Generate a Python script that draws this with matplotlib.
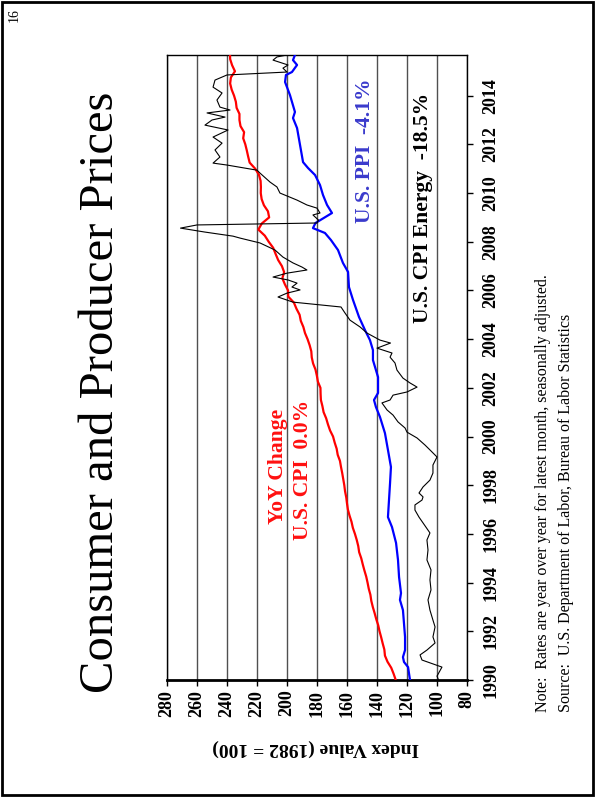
import numpy as np
import matplotlib
matplotlib.use('Agg')
import matplotlib.pyplot as plt
from matplotlib.patches import Rectangle

plt.rcParams['font.family'] = ['Liberation Serif', 'DejaVu Serif']

# ---- data (index values, 1982 = 100) ----
# CPI, quarterly from Jan 1990
cpi_vals = [127.5, 128.9, 130.5, 133.0, 134.7, 135.1, 136.2, 137.2,
            138.3, 139.2, 140.5, 141.6, 142.8, 143.8, 144.4, 145.5,
            146.3, 147.2, 148.4, 149.5, 150.5, 151.9, 152.5, 153.5,
            154.7, 156.1, 157.0, 158.3, 159.4, 160.0, 160.5, 161.3,
            161.8, 162.5, 163.2, 164.0, 164.7, 166.2, 166.9, 168.2,
            169.3, 171.3, 172.7, 173.9, 175.6, 176.4, 177.4, 177.6,
            177.7, 179.4, 180.1, 181.0, 182.6, 183.5, 183.8, 184.9,
            186.3, 188.0, 189.1, 190.8, 191.6, 193.7, 195.4, 199.2,
            199.3, 201.4, 203.1, 201.9, 203.4, 205.9, 207.6, 209.2,
            212.2, 214.8, 219.1, 216.8, 211.9, 212.7, 215.4, 216.9,
            217.5, 217.4, 217.6, 218.7, 221.2, 224.9, 225.9, 226.8,
            227.8, 229.2, 228.6, 231.0, 231.7, 231.7, 233.6, 234.1,
            235.3, 236.9, 237.9, 237.4, 234.7, 236.6, 237.9, 238.0]
cpi_years = 1990 + 0.25 * np.arange(len(cpi_vals))

# PPI
ppi_years = [1990.00, 1990.53, 1990.74, 1990.94, 1991.23, 1991.77, 1992.87, 1993.29,
             1993.57, 1994.23, 1994.93, 1995.63, 1996.28, 1996.69, 1997.39, 1998.09,
             1998.75, 1999.45, 2000.14, 2000.80, 2001.21, 2001.50, 2001.79, 2002.44,
             2003.14, 2003.55, 2003.96, 2004.37, 2004.91, 2005.61, 2006.14, 2006.76,
             2007.13, 2007.66, 2008.07, 2008.36, 2008.56, 2008.77, 2009.18, 2009.51,
             2009.92, 2010.33, 2010.74, 2011.03, 2011.27, 2011.97, 2012.67, 2013.08,
             2013.33, 2014.02, 2014.56, 2014.85, 2014.97, 2015.26, 2015.46, 2015.67]
ppi_vals = [118, 119.3, 122, 122.7, 121.3, 121.3, 122.7, 124.7,
            124, 125.3, 126, 127.3, 130, 132.7, 132, 131.3,
            130.7, 132.7, 134.7, 138, 140.7, 142, 139.3, 139.3,
            142.7, 142.7, 144.7, 148, 152, 156, 158.7, 159.3,
            162.7, 166, 170.7, 174.7, 182.7, 181, 170, 173.3,
            176, 178, 181.3, 186, 189.3, 191.3, 193.3, 196,
            194.7, 198, 201.3, 200.7, 196.7, 193.3, 196, 194.7]

# CPI Energy
energy_years = [1990.00, 1990.16, 1990.53, 1990.82, 1991.03, 1991.23, 1991.52, 1991.77,
                1992.18, 1992.46, 1992.87, 1993.29, 1993.70, 1994.11, 1994.52, 1994.93,
                1995.34, 1995.75, 1996.04, 1996.45, 1996.69, 1996.98, 1997.19, 1997.39,
                1997.52, 1997.68, 1997.93, 1998.21, 1998.50, 1998.83, 1999.16, 1999.45,
                1999.65, 1999.94, 2000.18, 2000.35, 2000.60, 2000.88, 2001.09, 2001.38,
                2001.50, 2001.70, 2001.83, 2002.03, 2002.20, 2002.40, 2002.73, 2003.02,
                2003.26, 2003.43, 2003.63, 2003.84, 2003.96, 2004.25, 2004.50, 2004.78,
                2005.07, 2005.32, 2005.52, 2005.73, 2005.89, 2006.02, 2006.14, 2006.30,
                2006.43, 2006.55, 2006.71, 2006.84, 2006.96, 2007.13, 2007.37, 2007.66,
                2007.95, 2008.15, 2008.23, 2008.40, 2008.56, 2008.69, 2008.77, 2008.89,
                2009.10, 2009.18, 2009.38, 2009.51, 2009.71, 2010.00, 2010.25, 2010.45,
                2010.82, 2010.94, 2011.15, 2011.23, 2011.48, 2011.77, 2012.05, 2012.30,
                2012.59, 2012.79, 2013.00, 2013.12, 2013.29, 2013.41, 2013.53, 2013.82,
                2014.11, 2014.35, 2014.64, 2014.85, 2014.97, 2015.13, 2015.26, 2015.46,
                2015.59, 2015.67]
energy_vals = [99, 100, 96.7, 110, 111.3, 106.7, 101.3, 102.7,
               101.3, 102.7, 104.7, 106, 104, 104.7, 104, 106.7,
               106, 106.7, 104.7, 109.3, 112, 114.7, 114.7, 110,
               109.3, 112, 109.3, 104.7, 102.7, 102.7, 100, 104.7,
               108, 113.3, 120, 121.3, 126, 129.3, 133.3, 136.7,
               131.3, 129.3, 120, 113.3, 118, 122.7, 126.7, 128,
               131.3, 130, 140, 131, 138, 146.7, 151.3, 158,
               161.3, 164, 196, 206, 200, 191.3, 196.7, 193.3,
               199.3, 209.3, 200, 186.7, 190, 196, 202.7, 208,
               218, 231.3, 236, 255, 271, 260, 180, 179,
               182.7, 178, 180, 186.7, 193.3, 204.7, 206.7, 211.3,
               218, 220, 240, 249.3, 244.7, 248, 243.3, 249.3,
               239.3, 254.7, 250, 241.3, 253.3, 238, 244.7, 246.7,
               243.3, 249.3, 248, 240, 200, 202.7, 199.3, 209.3,
               206.7, 200]

value_ticks = list(range(80, 281, 20))
year_ticks = list(range(1990, 2015, 2))

W, H = 597, 797

def fx(px):
    return px / W

def fy(py):
    return 1 - py / H

fig = plt.figure(figsize=(W / 100, H / 100), dpi=100)

# page frame
fig.patches.append(Rectangle((fx(2), fy(795)), fx(591), 793 / H, transform=fig.transFigure,
                             fill=False, edgecolor='black', lw=2))

# chart is laid out rotated 90 degrees: values run right-to-left, time runs upward
ax = fig.add_axes([fx(167), fy(680), fx(300), 625 / H])
ax.plot(cpi_vals, cpi_years, color='#ff0000', lw=1.6, zorder=3)
ax.plot(ppi_vals, ppi_years, color='#0000ff', lw=1.6, zorder=3)
ax.plot(energy_vals, energy_years, color='black', lw=0.8, zorder=4)

ax.set_xlim(280, 80)
ax.set_ylim(1990, 2015.67)

ax.set_xticks(value_ticks)
ax.set_xticklabels([str(v) for v in value_ticks], rotation=90, fontsize=13, fontweight='bold')
ax.yaxis.tick_right()
ax.set_yticks(year_ticks)
ax.set_yticklabels([str(y) for y in year_ticks], rotation=90, va='center', fontsize=13,
                   fontweight='bold')
ax.tick_params(axis='x', direction='out', length=4, width=1, pad=3)
ax.tick_params(axis='y', direction='out', length=4, width=1, pad=7)

ax.grid(axis='x', color='#505050', lw=1.0)
ax.set_axisbelow(True)
for s in ['left', 'top', 'right']:
    ax.spines[s].set_linewidth(1.0)
ax.spines['bottom'].set_linewidth(2.0)

def rtext(px, py, s, **kw):
    fig.text(fx(px), fy(py), s, rotation=90, rotation_mode='anchor', **kw)

# page number and title
rtext(18, 22, '16', fontsize=10, ha='left', va='baseline')
rtext(113, 392, 'Consumer and Producer Prices', fontsize=35, ha='center', va='baseline')

# series labels
rtext(283, 466, 'YoY Change', fontsize=15.5, fontweight='bold', color='#ff1010',
      ha='center', va='baseline')
rtext(308, 470, 'U.S. CPI  0.0%', fontsize=15.5, fontweight='bold', color='#ff1010',
      ha='center', va='baseline')
rtext(370, 151, 'U.S. PPI  -4.1%', fontsize=15.5, fontweight='bold', color='#3a3acc',
      ha='center', va='baseline')
rtext(428, 208, 'U.S. CPI Energy  -18.5%', fontsize=15.5, fontweight='bold', color='black',
      ha='center', va='baseline')

# notes
rtext(547, 712, 'Note:  Rates are year over year for latest month, seasonally adjusted.',
      fontsize=11.5, ha='left', va='baseline')
rtext(570, 712, 'Source:  U.S. Department of Labor, Bureau of Labor Statistics',
      fontsize=11.5, ha='left', va='baseline')

# axis title, upside down
fig.text(fx(316), fy(748), 'Index Value (1982 = 100)', rotation=180, ha='center', va='center',
         fontsize=14, fontweight='bold')

fig.savefig('out.png', dpi=100)
